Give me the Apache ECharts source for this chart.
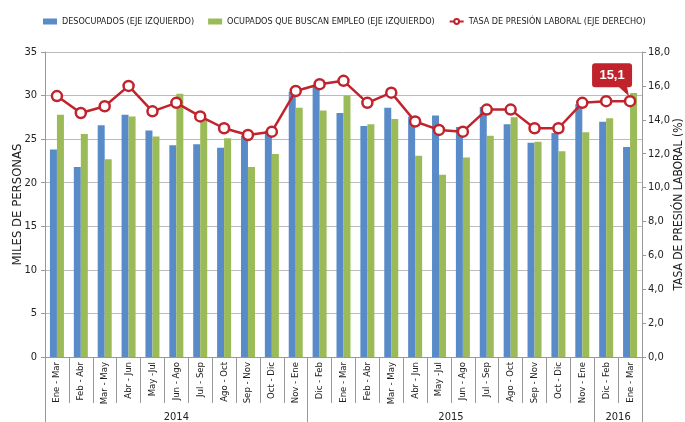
<!DOCTYPE html>
<html>
<head>
<meta charset="utf-8">
<script src="https://cdn.jsdelivr.net/npm/echarts@6/dist/echarts.min.js"></script>
<style>
  html, body { margin: 0; padding: 0; background: #fff; }
  #chart { width: 685px; height: 422px; }
</style>
</head>
<body>
<div id="chart"></div>
<script>
  // trimestres móviles
  var categorias = ['Ene - Mar', 'Feb - Abr', 'Mar - May', 'Abr - Jun', 'May -Jul', 'Jun - Ago', 'Jul - Sep', 'Ago - Oct', 'Sep - Nov', 'Oct - Dic', 'Nov - Ene',
    'Dic - Feb', 'Ene - Mar', 'Feb - Abr', 'Mar - May', 'Abr - Jun', 'May -Jul', 'Jun - Ago', 'Jul - Sep', 'Ago - Oct', 'Sep - Nov', 'Oct - Dic', 'Nov - Ene',
    'Dic - Feb', 'Ene - Mar'];
  var anios = ['2014', '2015', '2016'];
  var aniosInicio = [0, 11, 23, 25]; // límites de cada año (en número de trimestres)

  var desocupados = [23.8, 21.8, 26.6, 27.8, 26.0, 24.3, 24.4, 24.0, 25.4, 26.0, 30.4, 31.0, 28.0, 26.5, 28.6, 27.6, 27.7, 26.4, 28.7, 26.7, 24.6, 25.7, 29.0, 27.0, 24.1];
  var ocupadosBuscan = [27.8, 25.6, 22.7, 27.6, 25.3, 30.2, 27.3, 25.1, 21.8, 23.3, 28.6, 28.3, 30.0, 26.7, 27.3, 23.1, 20.9, 22.9, 25.4, 27.5, 24.7, 23.6, 25.8, 27.4, 30.3];
  var tasaPresion = [15.4, 14.4, 14.8, 16.0, 14.5, 15.0, 14.2, 13.5, 13.1, 13.3, 15.7, 16.1, 16.3, 15.0, 15.6, 13.9, 13.4, 13.3, 14.6, 14.6, 13.5, 13.5, 15.0, 15.1, 15.1];

  var fuente = "'DejaVu Sans Condensed', 'Liberation Sans Narrow', 'Liberation Sans', sans-serif";
  var chart = echarts.init(document.getElementById('chart'));

  var coma = function (v) { return v.toFixed(1).replace('.', ','); };
  var ultimo = tasaPresion.length - 1;

  var option = {
    animation: false,
    textStyle: { fontFamily: fuente },
    legend: {
      top: 12,
      left: 38,
      itemGap: 14,
      itemWidth: 14,
      itemHeight: 6,
      textStyle: { fontSize: 9, color: '#222', fontFamily: fuente },
      data: [
        { name: 'DESOCUPADOS (EJE IZQUIERDO)', icon: 'rect' },
        { name: 'OCUPADOS QUE BUSCAN EMPLEO (EJE IZQUIERDO)', icon: 'rect' },
        { name: 'TASA DE PRESIÓN LABORAL (EJE DERECHO)' }
      ]
    },
    grid: { left: 45, right: 43, top: 52, bottom: 65, outerBoundsMode: 'none' },
    xAxis: [
      {
        type: 'category',
        data: categorias,
        axisLine: { lineStyle: { color: '#999' } },
        axisTick: { show: true, interval: 0, length: 46, lineStyle: { color: '#999' } },
        axisLabel: { interval: 0, rotate: 90, fontSize: 9.5, color: '#222', margin: 5, fontFamily: fuente }
      },
      {
        type: 'value',
        position: 'bottom',
        min: 0,
        max: categorias.length,
        axisLine: { show: false },
        splitLine: { show: false },
        axisTick: { show: true, customValues: aniosInicio, length: 65, lineStyle: { color: '#999' } },
        axisLabel: {
          customValues: [5.5, 17, 24],
          margin: 55,
          fontSize: 11,
          color: '#222',
          fontFamily: fuente,
          formatter: function (v) {
            for (var i = 0; i < anios.length; i++) {
              if (v > aniosInicio[i] && v < aniosInicio[i + 1]) return anios[i];
            }
            return '';
          }
        }
      }
    ],
    yAxis: [
      {
        type: 'value',
        min: 0,
        max: 35,
        interval: 5,
        name: 'MILES DE PERSONAS',
        nameLocation: 'middle',
        nameGap: 21,
        nameMoveOverlap: false,
        nameTextStyle: { fontSize: 13, color: '#222', fontFamily: fuente },
        axisLine: { show: true, lineStyle: { color: '#999' } },
        axisTick: { show: true, length: 4, lineStyle: { color: '#999' } },
        axisLabel: { fontSize: 11, color: '#222', margin: 8, fontFamily: fuente },
        splitLine: { lineStyle: { color: '#bbb' } }
      },
      {
        type: 'value',
        min: 0,
        max: 18,
        interval: 2,
        name: 'TASA DE PRESIÓN LABORAL (%)',
        nameLocation: 'middle',
        nameGap: 31,
        nameRotate: 90,
        nameMoveOverlap: false,
        nameTextStyle: { fontSize: 12, color: '#222', fontFamily: fuente },
        axisLine: { show: true, lineStyle: { color: '#999' } },
        axisTick: { show: true, length: 4, lineStyle: { color: '#999' } },
        axisLabel: { fontSize: 11, color: '#222', margin: 6, fontFamily: fuente, formatter: coma },
        splitLine: { show: false }
      }
    ],
    series: [
      {
        name: 'DESOCUPADOS (EJE IZQUIERDO)',
        type: 'bar',
        data: desocupados,
        barWidth: 7,
        barGap: '0%',
        itemStyle: { color: '#5a8bc9' }
      },
      {
        name: 'OCUPADOS QUE BUSCAN EMPLEO (EJE IZQUIERDO)',
        type: 'bar',
        data: ocupadosBuscan,
        barWidth: 7,
        barGap: '0%',
        itemStyle: { color: '#9bbb59' }
      },
      {
        name: 'TASA DE PRESIÓN LABORAL (EJE DERECHO)',
        type: 'line',
        yAxisIndex: 1,
        data: tasaPresion,
        symbol: 'circle',
        symbolSize: 10,
        lineStyle: { color: '#c0232c', width: 2.5 },
        itemStyle: { color: '#fff', borderColor: '#c0232c', borderWidth: 2.5 },
        z: 5,
        markPoint: {
          symbol: 'path://M3,0 H37 Q40,0 40,3 V21 Q40,24 37,24 H35 L37,33 L27,24 H3 Q0,24 0,21 V3 Q0,0 3,0 Z',
          symbolSize: [40, 33],
          symbolOffset: [-18, -21.5],
          itemStyle: { color: '#c0232c' },
          label: {
            show: true,
            position: 'inside',
            offset: [0, -4.5],
            color: '#fff',
            fontWeight: 'bold',
            fontSize: 13,
            fontFamily: 'Liberation Sans, sans-serif',
            formatter: function (p) { return coma(p.value); }
          },
          data: [{ coord: [ultimo, tasaPresion[ultimo]], value: tasaPresion[ultimo] }]
        }
      }
    ]
  };

  chart.setOption(option);
</script>
</body>
</html>
